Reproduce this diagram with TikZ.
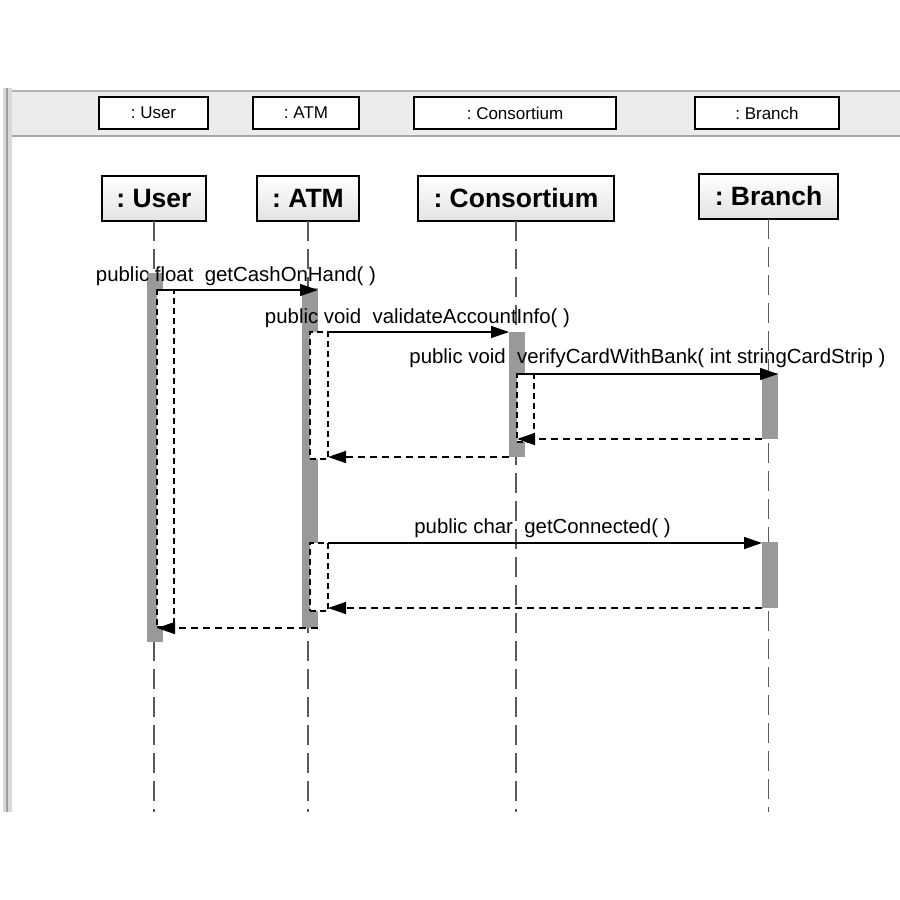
\documentclass[tikz,border=0pt]{standalone}
\usepackage{fontspec}
\setmainfont{Liberation Sans}
\usetikzlibrary{arrows.meta}
\frenchspacing

\tikzset{
  stripbox/.style={draw=black, line width=1.6pt, fill=white, inner sep=0, outer sep=0,
    minimum height=32pt, font=\fontsize{17}{20}\selectfont},
  headbox/.style={draw=black, line width=1.6pt, top color=white, bottom color=gray!22,
    inner sep=0, outer sep=0, minimum height=45pt, font=\bfseries\fontsize{26.5}{30}\selectfont},
  lifeline/.style={draw=black!65, line width=1.3pt, dash pattern=on 20pt off 8pt},
  actbar/.style={fill=black!40, minimum width=16pt, inner sep=0, outer sep=0, anchor=north},
  retbox/.style={draw=black, fill=white, line width=1.4pt, dash pattern=on 6pt off 4pt,
    minimum width=17pt, inner sep=0, outer sep=0, anchor=north west},
  msg/.style={line width=1.5pt, -{Triangle[length=18pt,width=12pt]}},
  ret/.style={line width=1.5pt, dash pattern=on 7pt off 5pt, -{Triangle[length=18pt,width=12pt]}},
  msglabel/.style={font=\fontsize{20.4}{24}\selectfont, anchor=base, inner sep=0}
}

\begin{document}
\begin{tikzpicture}[x=1pt,y=-1pt]
\useasboundingbox[fill=white] (0,0) rectangle (900,900);
% window frame
\fill[gray!15] (8,92) rectangle (900,136);
\draw[gray!60, line width=2pt] (3,91) -- (900,91);
\draw[gray!70, line width=1.5pt] (9,136) -- (900,136);
\fill[gray!30] (3,88) rectangle (12,812);
\draw[gray!75, line width=2pt] (7,88) -- (7,812);

% top strip
\node[stripbox, minimum width=109pt] (suser) at (153.5,113) {: User};
\node[stripbox, minimum width=106pt] (satm) at (306,113) {: ATM};
\node[stripbox, minimum width=202pt] (scons) at (515,113) {: Consortium};
\node[stripbox, minimum width=144pt] (sbranch) at (767,113) {: Branch};

% object heads
\node[headbox, minimum width=104pt] (huser) at (154,198.5) {: User};
\node[headbox, minimum width=102pt] (hatm) at (308,198.5) {: ATM};
\node[headbox, minimum width=196pt] (hcons) at (516,198.5) {: Consortium};
\node[headbox, minimum width=139pt] (hbranch) at (768.5,196.5) {: Branch};

% lifelines
\coordinate (llend) at (0,812);
\foreach \h in {huser,hatm,hcons,hbranch}
  \draw[lifeline] (\h.south) -- (\h.south |- llend);

% activations
\node[actbar, minimum height=369pt] (uact) at (155,273) {};
\node[actbar, minimum height=340pt] (aact) at (310,288) {};
\node[actbar, minimum height=125pt] (cact) at (517,332) {};
\node[actbar, minimum height=66pt] (bact1) at (770,373) {};
\node[actbar, minimum height=66pt] (bact2) at (770,542) {};

% return boxes
\node[retbox, minimum height=337pt] (uret) at (157,290) {};
\node[retbox, minimum width=18pt, minimum height=127pt] (aret1) at (310,332) {};
\node[retbox, minimum width=18pt, minimum height=68pt] (aret2) at (310,543) {};
\node[retbox, minimum height=68pt] (cret) at (517,374) {};

% messages
\draw[msg] (uret.north west) -- (uret.north west -| aact.east);
\draw[msg] (aret1.north east) -- (aret1.north east -| cact.west);
\draw[msg] (cret.north west) -- (cret.north west -| bact1.east);
\draw[ret] (bact1.south west) -- (bact1.south west -| cret.west);
\draw[ret] (cact.south west) -- (cact.south west -| aret1.east);
\draw[msg] (aret2.north east) -- (aret2.north east -| bact2.west);
\draw[ret] (bact2.south west) -- (bact2.south west -| aret2.east);
\draw[ret] (aact.south east) -- (aact.south east -| uret.west);

% labels
\node[msglabel] (l1) at (236,281) {public float\ \ getCashOnHand(\ )};
\node[msglabel] (l2) at (417.5,323) {public void\ \ validateAccountInfo(\ )};
\node[msglabel] (l3) at (647.5,363) {public void\ \ verifyCardWithBank(\ int stringCardStrip\ )};
\node[msglabel] (l4) at (542.5,533) {public char\ \ getConnected(\ )};
\end{tikzpicture}
\end{document}
